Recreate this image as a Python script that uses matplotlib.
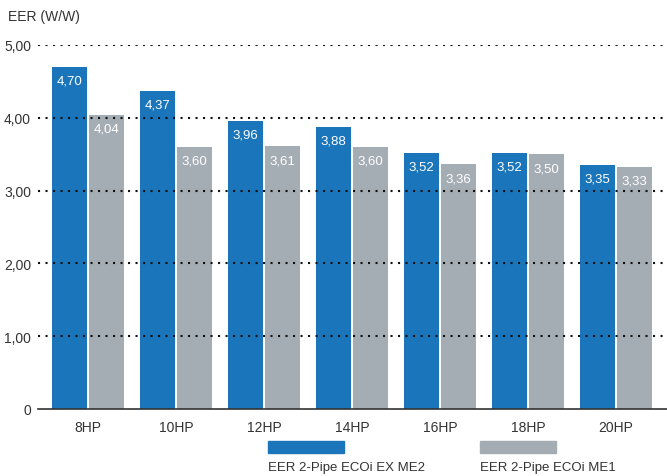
import numpy as np
import matplotlib.pyplot as plt
from matplotlib.patches import Rectangle

# -- data
models = ['8HP', '10HP', '12HP', '14HP', '16HP', '18HP', '20HP']
eer_me2 = [4.70, 4.37, 3.96, 3.88, 3.52, 3.52, 3.35]
eer_me1 = [4.04, 3.60, 3.61, 3.60, 3.36, 3.50, 3.33]
series_names = ['EER 2-Pipe ECOi EX ME2', 'EER 2-Pipe ECOi ME1']
yticks = [0, 1, 2, 3, 4, 5]
ytick_labels = ['0', '1,00', '2,00', '3,00', '4,00', '5,00']

blue = '#1a75bb'
grey = '#a5adb4'
txt = '#333333'

plt.rcParams['font.family'] = ['Liberation Sans', 'DejaVu Sans']

fig = plt.figure(figsize=(6.67, 4.77), dpi=100)
ax = fig.add_axes([38/667, 1-410/477, 629/667, 364/477])

x = np.arange(len(models))
w = 0.4
b1 = ax.bar(x - w/2 - 0.012, eer_me2, w, color=blue, zorder=2)
b2 = ax.bar(x + w/2 + 0.012, eer_me1, w, color=grey, zorder=2)

for bars, vals in ((b1, eer_me2), (b2, eer_me1)):
    for r, v in zip(bars, vals):
        ax.text(r.get_x() + r.get_width()/2, v - 0.19, f'{v:.2f}'.replace('.', ','),
                ha='center', va='center', color='white', fontsize=9.5, zorder=4)

ax.set_xlim(-0.57, 6.58)
ax.set_ylim(0, 5)
for yv in yticks[1:]:
    ax.axhline(yv, color='#111111', lw=1.5, ls=(0, (1, 2.6)), zorder=3)

ax.set_yticks(yticks)
ax.set_yticklabels(ytick_labels)
ax.set_xticks(x)
ax.set_xticklabels(models)
ax.tick_params(length=0, labelsize=10, colors=txt, pad=5)
ax.tick_params(axis='x', pad=8)
for s in ('left', 'right', 'top'):
    ax.spines[s].set_visible(False)
ax.spines['bottom'].set_color('#333333')
ax.spines['bottom'].set_linewidth(1.2)
ax.spines['bottom'].set_zorder(5)

fig.text(8/667, 1-17/477, 'EER (W/W)', fontsize=10, color=txt, va='center', ha='left')

# -- legend drawn by hand
for x0, c, name in ((268, blue, series_names[0]), (480, grey, series_names[1])):
    fig.patches.append(Rectangle((x0/667, 1-454/477), 76/667, 12/477,
                                 transform=fig.transFigure, color=c))
    fig.text(x0/667, 1-468/477, name, fontsize=9.5, color=txt, va='center', ha='left')

fig.savefig('out.png', dpi=100)
